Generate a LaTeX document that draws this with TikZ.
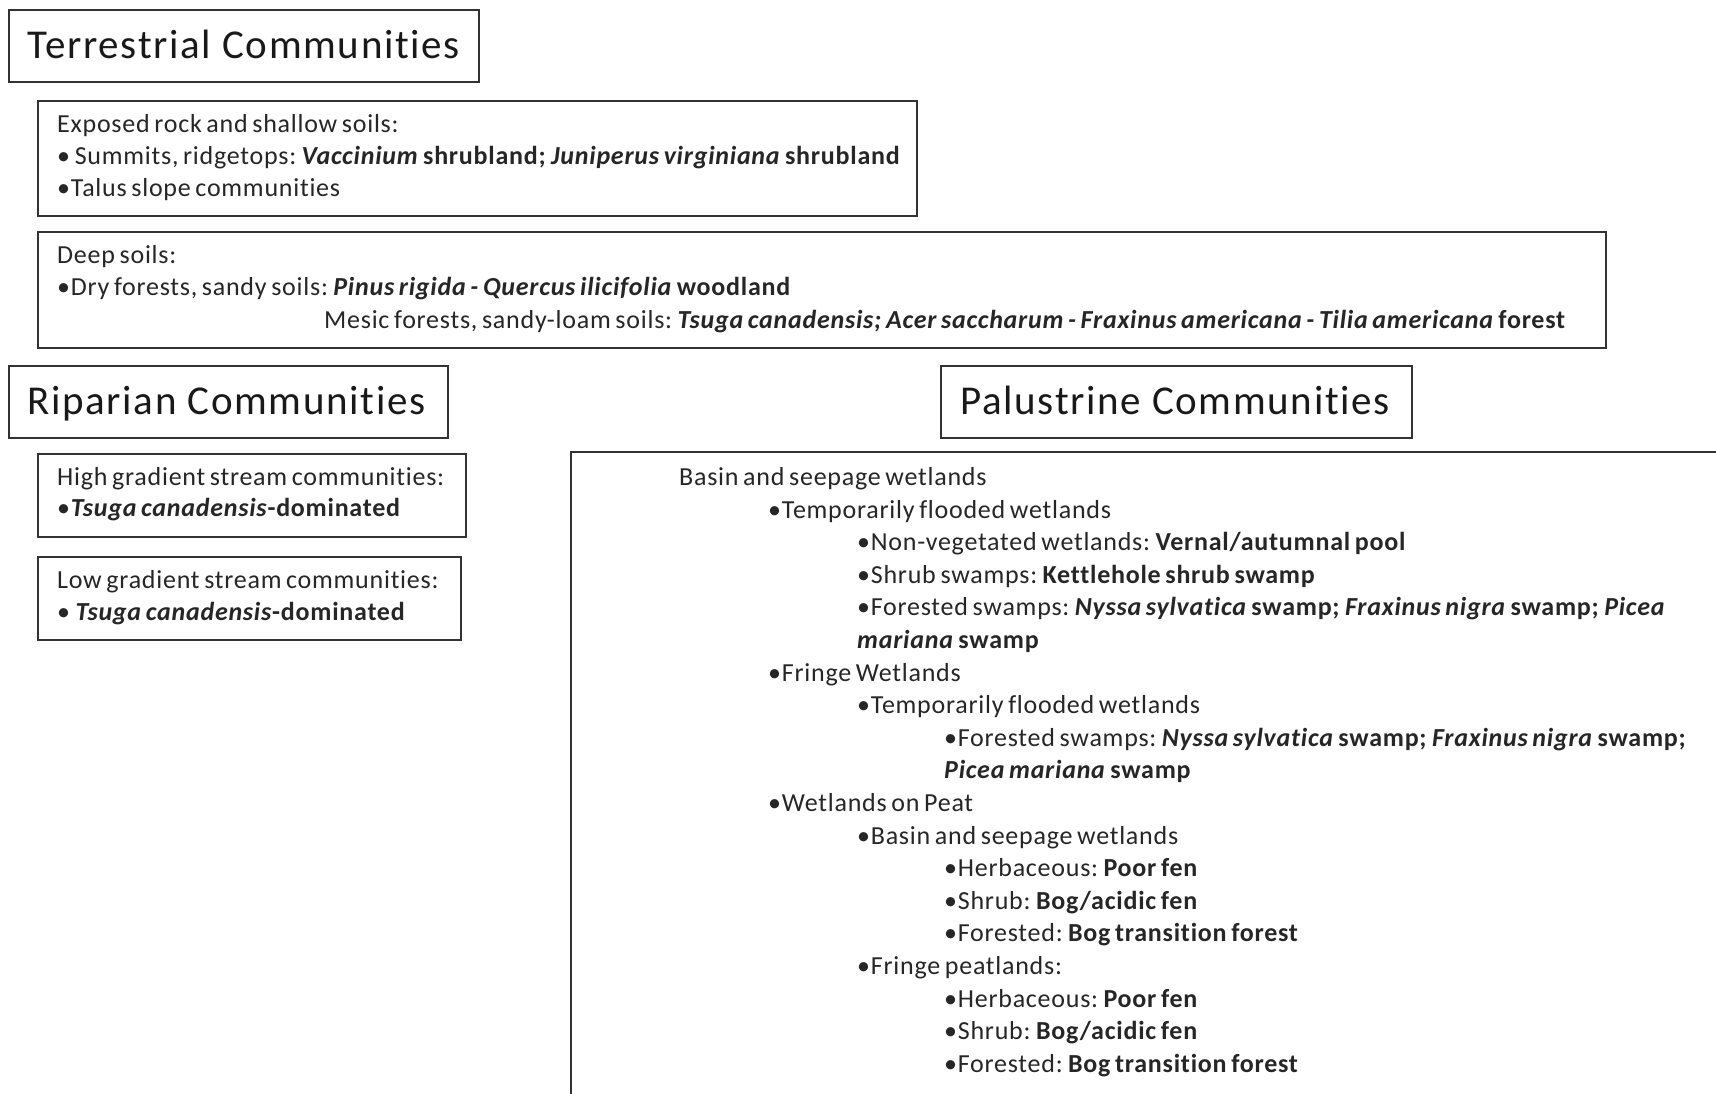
\documentclass[tikz,border=0pt]{standalone}
\usepackage{fontspec}
\setmainfont{Carlito}[LetterSpace=2.9,WordSpace=0.7,Ligatures=CommonOff]
\newfontfamily\ttlfont{Carlito}[LetterSpace=4.1,Ligatures=CommonOff]
\newcommand{\spn}[1]{\textbf{\textit{#1}}}
\frenchspacing
\begin{document}
\begin{tikzpicture}[x=1pt,y=-1pt,
  frame/.style={draw=black!80,line width=1.6pt,fill=none},
  ttl/.style={anchor=base west,inner sep=0pt,font=\ttlfont\fontsize{41}{49}\selectfont,text=black!90},
  txt/.style={anchor=base west,inner sep=0pt,font=\fontsize{26}{30}\selectfont,text=black!85}]
\useasboundingbox (0,0) rectangle (1716,1093);
\fill[white] (0,0) rectangle (1716,1093);
\begin{scope}
\clip (0,0) rectangle (1716,1093);
% boxes
\draw[frame] (9,10) rectangle (479,82);
\draw[frame] (38,101) rectangle (917,216);
\draw[frame] (38,232) rectangle (1606,348);
\draw[frame] (9,366) rectangle (448,438);
\draw[frame] (941,366) rectangle (1412,438);
\draw[frame] (38,454) rectangle (466,537);
\draw[frame] (38,557) rectangle (461,640);
\draw[frame] (571,452) rectangle (1740,1120);
\end{scope}
% titles
\node[ttl] (t1) at (27,58) {Terrestrial Communities};
\node[ttl] (t2) at (27,414) {Riparian Communities};
\node[ttl] (t3) at (960,414) {Palustrine Communities};
% exposed
\node[txt] (e1) at (57,132) {Exposed rock and shallow soils:};
\node[txt] (e2) at (57,164.5) {• Summits, ridgetops: \spn{Vaccinium} \textbf{shrubland;} \spn{Juniperus virginiana} \textbf{shrubland}};
\node[txt] (e3) at (57,196.5) {•Talus slope communities};
% deep
\node[txt] (d1) at (57,263.5) {Deep soils:};
\node[txt] (d2) at (57,295.5) {•Dry forests, sandy soils: \spn{Pinus rigida - Quercus ilicifolia} \textbf{woodland}};
\node[txt] (d3) at (324,328.5) {Mesic forests, sandy-loam soils: \spn{Tsuga canadensis; Acer saccharum - Fraxinus americana - Tilia americana} \textbf{forest}};
% riparian
\node[txt] (h1) at (57,485.5) {High gradient stream communities:};
\node[txt] (h2) at (57,516.5) {•\spn{Tsuga canadensis}\textbf{-dominated}};
\node[txt] (l1) at (57,588.5) {Low gradient stream communities:};
\node[txt] (l2) at (57,620.5) {• \spn{Tsuga canadensis}\textbf{-dominated}};
% palustrine list
\node[txt] (p0) at (679,485.5) {Basin and seepage wetlands};
\node[txt] (p1) at (768,518.1) {•Temporarily flooded wetlands};
\node[txt] (p2) at (857,550.7) {•Non-vegetated wetlands: \textbf{Vernal/autumnal pool}};
\node[txt] (p3) at (857,583.3) {•Shrub swamps: \textbf{Kettlehole shrub swamp}};
\node[txt] (p4) at (857,615.9) {•Forested swamps: \spn{Nyssa sylvatica} \textbf{swamp;} \spn{Fraxinus nigra} \textbf{swamp;} \spn{Picea}};
\node[txt] (p5) at (857,648.5) {\spn{mariana} \textbf{swamp}};
\node[txt] (p6) at (768,681.1) {•Fringe Wetlands};
\node[txt] (p7) at (857,713.7) {•Temporarily flooded wetlands};
\node[txt] (p8) at (944,746.3) {•Forested swamps: \spn{Nyssa sylvatica} \textbf{swamp;} \spn{Fraxinus nigra} \textbf{swamp;}};
\node[txt] (p9) at (944,778.9) {\spn{Picea mariana} \textbf{swamp}};
\node[txt] (p10) at (768,811.5) {•Wetlands on Peat};
\node[txt] (p11) at (857,844.1) {•Basin and seepage wetlands};
\node[txt] (p12) at (944,876.7) {•Herbaceous: \textbf{Poor fen}};
\node[txt] (p13) at (944,909.3) {•Shrub: \textbf{Bog/acidic fen}};
\node[txt] (p14) at (944,941.9) {•Forested: \textbf{Bog transition forest}};
\node[txt] (p15) at (857,974.5) {•Fringe peatlands:};
\node[txt] (p16) at (944,1007.1) {•Herbaceous: \textbf{Poor fen}};
\node[txt] (p17) at (944,1039.7) {•Shrub: \textbf{Bog/acidic fen}};
\node[txt] (p18) at (944,1072.3) {•Forested: \textbf{Bog transition forest}};
\end{tikzpicture}
\end{document}
